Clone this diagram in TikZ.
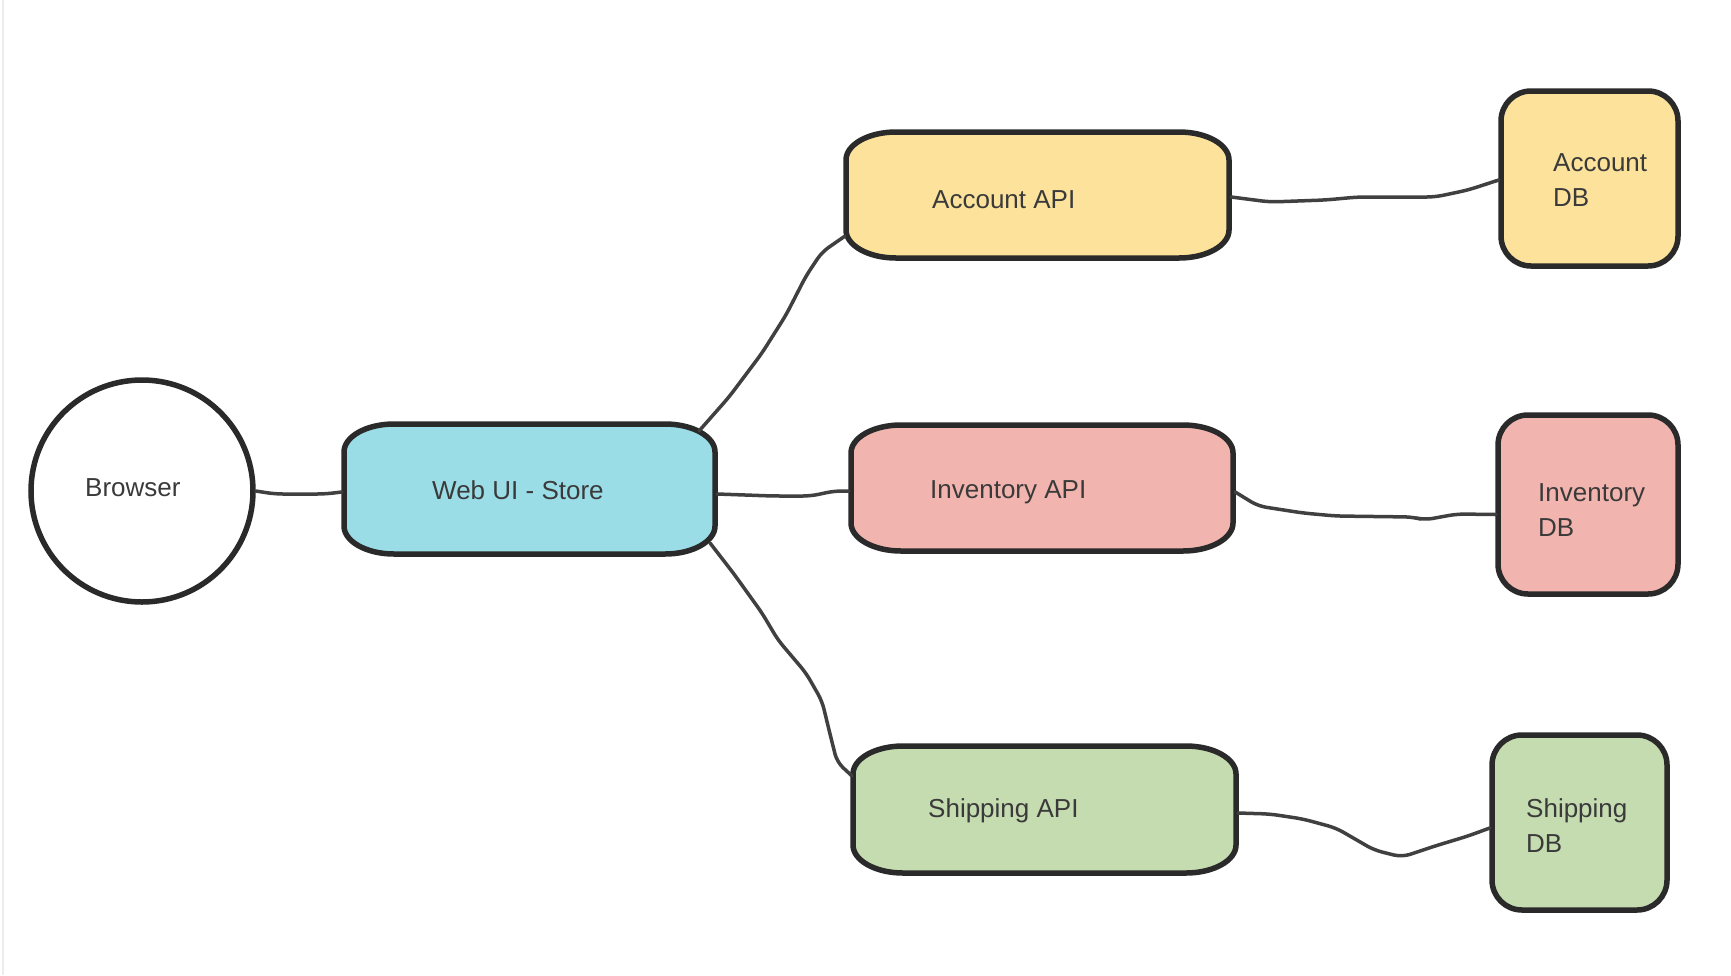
\documentclass[tikz,border=0pt]{standalone}
\usepackage{fontspec}
\setmainfont{Liberation Sans}
\usetikzlibrary{calc}
\definecolor{bordc}{HTML}{2A2A2A}
\definecolor{txtc}{HTML}{3A3A3A}
\definecolor{connc}{HTML}{404040}
\definecolor{webc}{HTML}{9ADDE7}
\definecolor{accc}{HTML}{FCE29B}
\definecolor{invc}{HTML}{F2B4AE}
\definecolor{shipc}{HTML}{C5DBB0}
\tikzset{
  boxline/.style={draw=bordc, line width=5.5pt, line join=round},
  conn/.style={draw=connc, line width=3.5pt, line cap=round, line join=round, rounded corners=8pt},
  lbl/.style={text=txtc, inner sep=0pt, font=\fontsize{26}{35}\selectfont},
}
% #1 name, #2 fill, #3 x1, #4 ytop, #5 x2, #6 ybot, #7 rx, #8 ry
\newcommand\ebox[8]{%
  \draw[boxline, fill=#2] ({#3+#7},#4) -- ({#5-#7},#4)
    arc[start angle=90,end angle=0,x radius=#7pt,y radius=#8pt] -- (#5,{#6-#8})
    arc[start angle=0,end angle=-90,x radius=#7pt,y radius=#8pt] -- ({#3+#7},#6)
    arc[start angle=270,end angle=180,x radius=#7pt,y radius=#8pt] -- (#3,{#4+#8})
    arc[start angle=180,end angle=90,x radius=#7pt,y radius=#8pt] -- cycle;
  \node[inner sep=0pt, minimum width={#5-#3}, minimum height={#6-#4}] (#1) at ({(#3+#5)/2},{(#4+#6)/2}) {};
}
\begin{document}
\begin{tikzpicture}[x=1pt,y=-1pt]
\useasboundingbox (0,0) rectangle (1731,975);
\fill[white] (0,0) rectangle (1731,975);
\draw[gray!15, line width=2pt] (3,0) -- (3,975);

\node[circle, draw=bordc, line width=5.5pt, fill=white, minimum size=222pt, inner sep=0pt] (browser) at (142,491) {};

\ebox{web}{webc}{344}{424}{715}{554}{50}{28}
\ebox{acct}{accc}{846}{132}{1229}{258}{50}{28}
\ebox{inv}{invc}{851}{425}{1233}{551}{50}{28}
\ebox{ship}{shipc}{853}{746}{1236}{873}{50}{28}
\ebox{acdb}{accc}{1501}{91}{1678}{266}{30}{30}
\ebox{indb}{invc}{1498}{415}{1678}{594}{30}{30}
\ebox{shdb}{shipc}{1492}{735}{1667}{910}{30}{30}

% connectors
\draw[conn] (browser.east) -- (275,494) -- (325,494) -- ($(web.west)+(-2,3)$);
\draw[conn] ($(web.north east)+(-16,7)$) -- (729,397) -- (762,353) -- (786,315) -- (806,276) -- (822,252) -- ($(acct.south west)+(-1,-22)$);
\draw[conn] ($(web.east)+(2,5)$) -- (773,496) -- (811,496) -- (834,491) -- ($(inv.west)+(-2,3)$);
\draw[conn] ($(web.south east)+(-5,-11)$) -- (734,574) -- (762,613) -- (778,640) -- (806,673) -- (822,701) -- (830,734) -- (837,762) -- ($(ship.north west)+(-1,30)$);
\draw[conn] ($(acct.east)+(2,2)$) -- (1270,202) -- (1325,200) -- (1358,197) -- (1435,197) -- (1468,190) -- ($(acdb.west)+(-2,1.5)$);
\draw[conn] ($(inv.east)+(2,4)$) -- (1258,506) -- (1303,513) -- (1336,516) -- (1413,517) -- (1424,520) -- (1457,514) -- ($(indb.west)+(-2,10)$);
\draw[conn] ($(ship.east)+(2,3.5)$) -- (1270,814) -- (1303,819) -- (1336,828) -- (1374,850) -- (1402,857) -- (1435,846) -- (1468,836) -- ($(shdb.west)+(-2,5.5)$);

% labels
\node[lbl, anchor=base west] (tbrowser) at (85,496) {Browser};
\node[lbl, anchor=base west] (tweb) at (432,499) {Web UI - Store};
\node[lbl, anchor=base west] (tacct) at (932,208) {Account API};
\node[lbl, anchor=base west] (tinv) at (930,498) {Inventory API};
\node[lbl, anchor=base west] (tship) at (928,817) {Shipping API};
\node[lbl, anchor=north west, align=left] (tacdb) at (1553,153) {Account\\DB};
\node[lbl, anchor=north west, align=left] (tindb) at (1538,483) {Inventory\\DB};
\node[lbl, anchor=north west, align=left] (tshdb) at (1526,798) {Shipping\\DB};
\end{tikzpicture}
\end{document}
